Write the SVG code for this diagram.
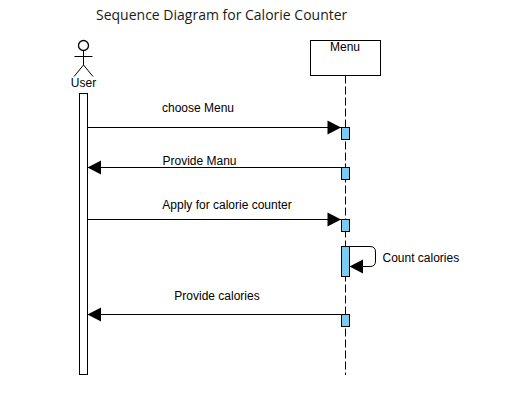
<svg xmlns="http://www.w3.org/2000/svg" width="518" height="405" viewBox="0 0 518 405">
<style>
text{font-family:"Liberation Sans",Arial,sans-serif;font-size:12px;fill:#000}
.title{font-family:"Open Sans",sans-serif;font-size:14px;fill:#1a1a1a}
.s{fill:none;stroke:#000;stroke-width:1}
.box{fill:#fff;stroke:#000;stroke-width:1}
.act{fill:#7accf2;stroke:#000;stroke-width:1}
.life{stroke:#000;stroke-width:1;stroke-dasharray:8 3;fill:none}
.c{fill:none;stroke:#000;stroke-width:1;marker-end:url(#head)}
</style>
<defs>
<marker id="head" markerUnits="userSpaceOnUse" markerWidth="16" markerHeight="16" refX="14" refY="8" orient="auto">
<path d="M0.5 1L14 8L0.5 15Z" fill="#000"/>
</marker>
</defs>
<text class="title" x="96" y="20">Sequence Diagram for Calorie Counter</text>
<g id="user">
<circle class="s" cx="83.5" cy="45.5" r="5" stroke-width="1.3" style="stroke-width:1.3"/>
<path class="s" d="M83.5 50.5V65M74.5 56.5H92.5M83.5 65L74 76.5M83.5 65L93 76.5"/>
<text x="83.5" y="87" text-anchor="middle">User</text>
<rect class="box" x="79.5" y="93.5" width="8" height="281"/>
</g>
<g id="menu">
<path class="life" d="M345.5 75.5V375"/>
<rect class="box" x="310.5" y="40.5" width="70" height="35"/>
<text x="345" y="51" text-anchor="middle">Menu</text>
<rect class="act" x="341.5" y="127.5" width="8" height="12"/>
<rect class="act" x="341.5" y="167.5" width="8" height="12"/>
<rect class="act" x="341.5" y="219.5" width="8" height="12"/>
<rect class="act" x="341.5" y="246.5" width="8" height="30"/>
<rect class="act" x="341.5" y="314.5" width="8" height="12"/>
</g>
<g id="connectors">
<path class="c" d="M87 127.5H341"/>
<path class="c" d="M341 167.5H87.5"/>
<path class="c" d="M87 219.5H341"/>
<path class="c" d="M349.5 246.5H370Q375.5 246.5 375.5 252V261Q375.5 266.5 370 266.5H349.5"/>
<path class="c" d="M341 314.5H87.5"/>
</g>
<g id="labels">
<text x="198" y="112" text-anchor="middle">choose Menu</text>
<text x="199.5" y="165" text-anchor="middle">Provide Manu</text>
<text x="227" y="209" text-anchor="middle">Apply for calorie counter</text>
<text x="382.5" y="262">Count calories</text>
<text x="217" y="300" text-anchor="middle">Provide calories</text>
</g>
</svg>
